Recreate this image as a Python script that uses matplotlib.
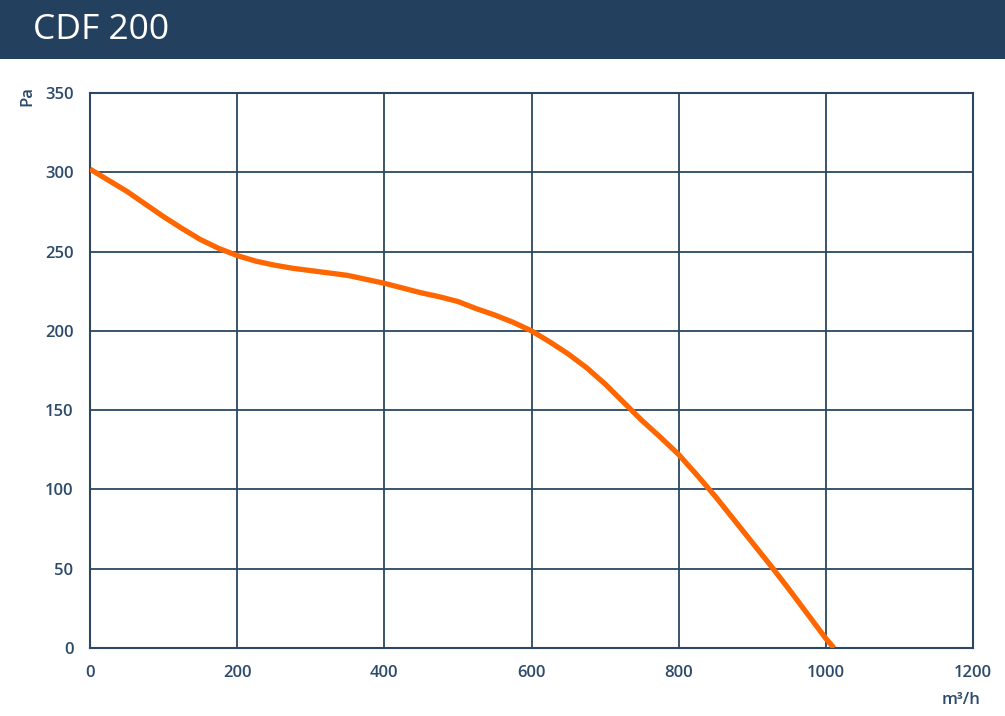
import matplotlib.pyplot as plt
from matplotlib.patches import Rectangle

plt.rcParams['font.family'] = ['Open Sans', 'DejaVu Sans']

# Kennlinie CDF 200
flow = [0, 25, 50, 75, 100, 125, 150, 175, 200, 225, 250, 275, 300, 325,
        350, 375, 400, 425, 450, 475, 500, 525, 550, 575, 600, 625, 650,
        675, 700, 725, 750, 775, 800, 825, 850, 875, 900, 925, 950, 975,
        1000, 1011]
pressure = [302, 295, 288, 280, 272, 264.6, 257.6, 252, 247.5, 244, 241.5,
            239.5, 238, 236.5, 235, 232.5, 230, 227, 224, 221.5, 218.5, 214,
            210, 205.4, 200, 193, 185.4, 176.7, 166.5, 155, 143.5, 133, 122,
            109, 95.5, 81, 66.5, 52, 37, 21.5, 6, 0]
x_ticks = [0, 200, 400, 600, 800, 1000, 1200]
y_ticks = [0, 50, 100, 150, 200, 250, 300, 350]
title = 'CDF 200'

navy = '#23405f'
grid_col = '#2b4763'
text_col = '#2c4a6a'
orange = '#ff6600'

W, H = 1005, 716
fig = plt.figure(figsize=(W / 100, H / 100), dpi=100)

# Kopfzeile
fig.patches.append(Rectangle((0, 1 - 59 / H), 1, 59 / H, transform=fig.transFigure,
                             facecolor=navy, edgecolor='none', zorder=0))
fig.text(33 / W, 1 - 30 / H, title, color='white', fontsize=25.5,
         ha='left', va='center')

ax = fig.add_axes([90 / W, 1 - 648 / H, (973 - 90) / W, (648 - 93) / H])
ax.plot(flow, pressure, color=orange, lw=3.8, solid_capstyle='butt',
        solid_joinstyle='round', zorder=3)

ax.set_xlim(0, 1200)
ax.set_ylim(0, 350)
ax.set_xticks(x_ticks)
ax.set_yticks(y_ticks)
ax.grid(True, color=grid_col, lw=1.3)
ax.tick_params(length=0, labelsize=12, colors=text_col)
ax.tick_params(axis='x', pad=12)
ax.tick_params(axis='y', pad=12)
for lbl in ax.get_xticklabels() + ax.get_yticklabels():
    lbl.set_fontweight('semibold')
for s in ax.spines.values():
    s.set_color(grid_col)
    s.set_linewidth(1.5)

fig.text(27 / W, 1 - 96 / H, 'Pa', rotation=90, color=text_col, fontsize=12,
         fontweight='semibold', ha='center', va='center')
fig.text(961 / W, 1 - 700 / H, 'm³/h', color=text_col, fontsize=12,
         fontweight='semibold', ha='center', va='center')

fig.savefig('out.png', dpi=100)
